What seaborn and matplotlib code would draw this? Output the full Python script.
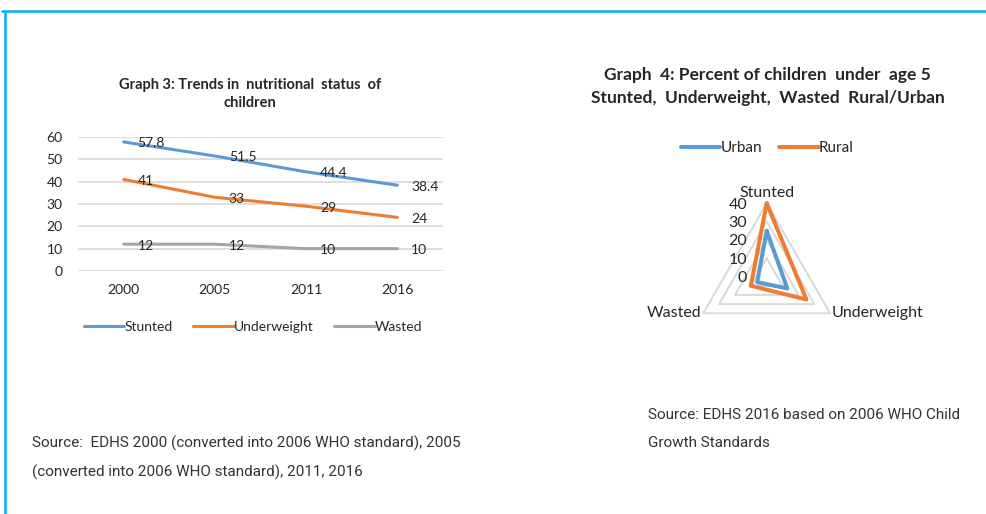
import numpy as np
import pandas as pd
import matplotlib
matplotlib.use("Agg")
import matplotlib.pyplot as plt
from matplotlib.lines import Line2D
import seaborn as sns

# ---- data ----
years = ["2000", "2005", "2011", "2016"]
stunted = [57.8, 51.5, 44.4, 38.4]
underweight = [41, 33, 29, 24]
wasted = [12, 12, 10, 10]
trend_series = ["Stunted", "Underweight", "Wasted"]

radar_axes = ["Stunted", "Underweight", "Wasted"]
urban = [25, 13, 6]
rural = [40, 25, 10]
radar_ticks = [0, 10, 20, 30, 40]

BLUE, ORANGE, GRAY = "#5B9BD5", "#ED7D31", "#A5A5A5"
GRID = "#D9D9D9"
TXT = "#262626"

sns.set_theme(style="white")
plt.rcParams["font.family"] = ["Lato", "DejaVu Sans"]

fig = plt.figure(figsize=(9.86, 5.14), dpi=100)
W, H = 986, 514


def fx(px):
    return px / W


def fy(py):
    return 1 - py / H


# frame around the figure (top and left edges only)
fig.add_artist(Line2D([fx(2), 1], [fy(11), fy(11)], color="#00B0F0", lw=1.8))
fig.add_artist(Line2D([fx(4.5), fx(4.5)], [fy(11), 0], color="#00B0F0", lw=1.8))

# ---- Graph 3: line chart ----
ax = fig.add_axes([fx(78), fy(271), fx(443) - fx(78), fy(137) - fy(271)])
trend = pd.DataFrame({
    "year": years * 3,
    "value": stunted + underweight + wasted,
    "series": [s for s in trend_series for _ in years],
})
sns.lineplot(data=trend, x="year", y="value", hue="series",
             palette=[BLUE, ORANGE, GRAY], linewidth=2.2, sort=False,
             legend=False, ax=ax)
ax.set_xlim(-0.5, 3.5)
ax.set_ylim(0, 60)
ax.set_yticks(range(0, 61, 10))
ax.yaxis.grid(True, color=GRID, lw=1.2)
ax.set_axisbelow(True)
for s in ax.spines.values():
    s.set_visible(False)
ax.set_xlabel("")
ax.set_ylabel("")
ax.tick_params(axis="both", length=0, labelsize=10, labelcolor=TXT)
ax.tick_params(axis="x", pad=9)
ax.tick_params(axis="y", pad=11)

for vals in (stunted, underweight, wasted):
    for i, v in enumerate(vals):
        ax.annotate(f"{v:g}", (i, v), xytext=(10, -1), textcoords="offset points",
                    ha="left", va="center", fontsize=10, color=TXT)

fig.text(fx(250), fy(85), "Graph 3: Trends in  nutritional  status  of",
         ha="center", va="center", fontsize=10.5, fontweight="bold", color=TXT)
fig.text(fx(250), fy(103), "children",
         ha="center", va="center", fontsize=10.5, fontweight="bold", color=TXT)

trend_handles = [Line2D([], [], color=c, lw=2.2) for c in (BLUE, ORANGE, GRAY)]
fig.legend(trend_handles, trend_series, loc="center", bbox_to_anchor=(fx(253), fy(327)),
           ncol=3, frameon=False, fontsize=10, handlelength=2.9, handletextpad=0.0,
           columnspacing=1.5, labelcolor=TXT)

# ---- Graph 4: radar chart ----
cx, cy, rad = 766.7, 276.6, 73.3
rax = fig.add_axes([fx(cx - rad), fy(cy + rad), 2 * rad / W, 2 * rad / H], projection="polar")
rax.set_theta_offset(np.pi / 2)
rax.set_theta_direction(-1)
rax.set_ylim(0, 40)
rax.grid(False)
rax.spines["polar"].set_visible(False)
rax.set_xticks([])
rax.set_yticks([])
rax.patch.set_alpha(0)

theta = np.deg2rad([0, 120, 240])
closed = np.append(theta, theta[0])
for t in radar_ticks[1:]:
    rax.plot(closed, [t] * 4, color=GRID, lw=1.4, clip_on=False, zorder=1)

for vals, col in ((urban, BLUE), (rural, ORANGE)):
    sns.lineplot(x=closed, y=vals + [vals[0]], sort=False, estimator=None,
                 color=col, linewidth=2.9, ax=rax, clip_on=False, zorder=3)
rax.set_xlabel("")
rax.set_ylabel("")

for t in radar_ticks:
    rax.annotate(str(t), (0, t), xytext=(-14, -1), textcoords="offset points",
                 ha="right", va="center", fontsize=11.5, color=TXT, annotation_clip=False)

rax.text(theta[0], 42, radar_axes[0], ha="center", va="bottom", fontsize=11.5, color=TXT)
rax.annotate(radar_axes[1], (theta[1], 40), xytext=(1, 0), textcoords="offset points",
             ha="left", va="center", fontsize=11.5, color=TXT, annotation_clip=False)
rax.annotate(radar_axes[2], (theta[2], 40), xytext=(-1, 0), textcoords="offset points",
             ha="right", va="center", fontsize=11.5, color=TXT, annotation_clip=False)

fig.text(fx(767), fy(75), "Graph  4: Percent of children  under  age 5",
         ha="center", va="center", fontsize=12.5, fontweight="bold", color=TXT)
fig.text(fx(768), fy(98), "Stunted,  Underweight,  Wasted  Rural/Urban",
         ha="center", va="center", fontsize=12.5, fontweight="bold", color=TXT)

radar_handles = [Line2D([], [], color=c, lw=2.9) for c in (BLUE, ORANGE)]
fig.legend(radar_handles, ["Urban", "Rural"], loc="center", bbox_to_anchor=(fx(767), fy(148)),
           ncol=2, frameon=False, fontsize=11, handlelength=2.6, handletextpad=0.0,
           columnspacing=1.1, labelcolor=TXT)

# ---- sources ----
src_font = ["Roboto", "DejaVu Sans"]
fig.text(fx(32), fy(443), "Source:  EDHS 2000 (converted into 2006 WHO standard), 2005",
         ha="left", va="center", fontsize=11, color="#333333", family=src_font)
fig.text(fx(32), fy(472), "(converted into 2006 WHO standard), 2011, 2016",
         ha="left", va="center", fontsize=11, color="#333333", family=src_font)
fig.text(fx(648), fy(415), "Source: EDHS 2016 based on 2006 WHO Child",
         ha="left", va="center", fontsize=11, color="#333333", family=src_font)
fig.text(fx(648), fy(443), "Growth Standards",
         ha="left", va="center", fontsize=11, color="#333333", family=src_font)

fig.savefig("out.png", dpi=100)
